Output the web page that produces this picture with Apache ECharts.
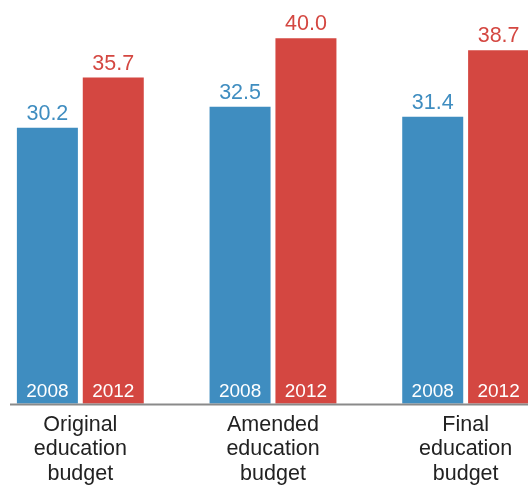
<!DOCTYPE html>
<html>
<head>
<meta charset="utf-8">
<script src="https://cdn.jsdelivr.net/npm/echarts@6/dist/echarts.min.js"></script>
<style>
  html, body { margin: 0; padding: 0; background: #fff; overflow: hidden; }
  /* chart area is wider than the window: the outer groups run past both edges */
  #chart { width: 578px; height: 486px; margin-left: -16px; }
</style>
</head>
<body>
<div id="chart"></div>
<script>
const CATEGORIES = ['Original\neducation\nbudget', 'Amended\neducation\nbudget', 'Final\neducation\nbudget'];
const YEARS = ['2008', '2012'];
const VALUES_2008 = [30.2, 32.5, 31.4];
const VALUES_2012 = [35.7, 40.0, 38.7];
const COLORS = ['#3f8dc0', '#d44741'];

const FONT = '"Liberation Sans", Arial, sans-serif';

let chart = echarts.init(document.getElementById('chart'), null, { renderer: 'canvas' });

// value label above the bar
function valueSeries(name, data, color) {
  return {
    name: name,
    type: 'bar',
    xAxisIndex: 0,
    data: data,
    barWidth: 61,
    barGap: '8%',
    itemStyle: { color: color },
    label: {
      show: true,
      position: 'top',
      distance: 3,
      color: color,
      fontSize: 21.5,
      fontFamily: FONT,
      formatter: p => p.value.toFixed(1)
    }
  };
}

// year label inside the bar bottom (drawn on a twin axis so the bars line up)
function yearSeries(name, data) {
  return {
    name: name,
    type: 'bar',
    xAxisIndex: 1,
    data: data,
    barWidth: 61,
    barGap: '8%',
    silent: true,
    itemStyle: { color: 'rgba(0,0,0,0)' },
    label: {
      show: true,
      position: 'insideBottom',
      distance: 2,
      color: '#fff',
      fontSize: 19,
      fontFamily: FONT,
      formatter: name
    }
  };
}

chart.setOption({
  animation: false,
  grid: { left: 0, right: 0, top: 0, bottom: 81.5, containLabel: false },
  xAxis: [
    {
      type: 'category',
      data: CATEGORIES,
      axisLine: { show: false },
      axisTick: { show: false },
      axisLabel: {
        color: '#222',
        fontSize: 21.5,
        lineHeight: 24.5,
        margin: 9,
        fontFamily: FONT,
        interval: 0
      }
    },
    {
      type: 'category',
      data: CATEGORIES,
      position: 'bottom',
      show: false
    }
  ],
  yAxis: {
    type: 'value',
    min: 0,
    max: 44.2,
    show: false,
    splitLine: { show: false }
  },
  graphic: [
    {
      type: 'line',
      shape: { x1: 26, y1: 404.5, x2: 578, y2: 404.5 },
      style: { stroke: '#8a8a8a', lineWidth: 2 },
      z: 10
    }
  ],
  series: [
    valueSeries(YEARS[0], VALUES_2008, COLORS[0]),
    valueSeries(YEARS[1], VALUES_2012, COLORS[1]),
    yearSeries(YEARS[0], VALUES_2008),
    yearSeries(YEARS[1], VALUES_2012)
  ]
});
</script>
</body>
</html>
